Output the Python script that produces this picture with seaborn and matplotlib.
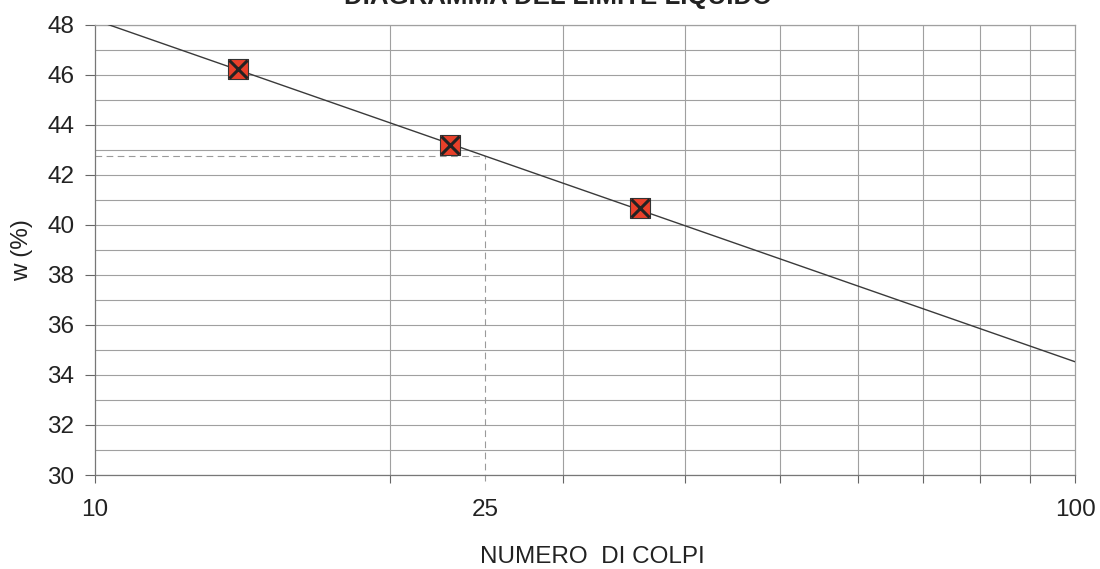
import matplotlib
matplotlib.use('Agg')
import matplotlib.pyplot as plt
import matplotlib.ticker as mticker
import pandas as pd
import seaborn as sns

# Test points (blows vs water content)
blows = [14, 23, 36]
water = [46.24, 43.18, 40.66]

# Fitted line read at the edges of the chart
trend_blows = [10, 100]
trend_water = [48.2, 34.53]

# Liquid limit at 25 blows
ll_blows = 25
ll_water = 42.77

x_major = [10, 25, 100]
x_labels = ['10', '25', '100']
x_minor = [20, 30, 40, 50, 60, 70, 80, 90]
y_major = list(range(30, 49, 2))
y_minor = list(range(31, 48, 2))

pts = pd.DataFrame({'Colpi': blows, 'w': water})
trend = pd.DataFrame({'Colpi': trend_blows, 'w': trend_water})

sns.set_style('white')
plt.rcParams['font.family'] = ['Liberation Sans', 'DejaVu Sans']

fig = plt.figure(figsize=(11, 5.69), dpi=100)
ax = fig.add_axes([0.0864, 0.1652, 0.8909, 0.7909])
ax.set_xscale('log')

grid_col = '#a0a0a0'

# liquid limit construction lines
ax.plot([10, ll_blows], [ll_water, ll_water], ls=(0, (6, 4)), color='#9a9a9a', lw=0.8, zorder=2)
ax.plot([ll_blows, ll_blows], [29.76, ll_water], ls=(0, (6, 4)), color='#9a9a9a', lw=0.8,
        zorder=2, clip_on=False)

sns.lineplot(data=trend, x='Colpi', y='w', color='#3a3a3a', lw=1.0, ax=ax, zorder=3)
sns.scatterplot(data=pts, x='Colpi', y='w', marker='s', s=190, color='#e8402a',
                edgecolor='#333333', linewidth=0.8, ax=ax, zorder=4)
sns.scatterplot(data=pts, x='Colpi', y='w', marker='x', s=170, color='#222222',
                linewidth=2.2, ax=ax, zorder=5)

ax.set_xlim(10, 100)
ax.set_ylim(30, 48)

ax.xaxis.set_major_locator(mticker.FixedLocator(x_major))
ax.xaxis.set_major_formatter(mticker.FixedFormatter(x_labels))
ax.xaxis.set_minor_locator(mticker.FixedLocator(x_minor))
ax.xaxis.set_minor_formatter(mticker.NullFormatter())
ax.yaxis.set_major_locator(mticker.FixedLocator(y_major))
ax.yaxis.set_minor_locator(mticker.FixedLocator(y_minor))

ax.grid(False)
ax.grid(which='minor', axis='x', color=grid_col, lw=0.8)
ax.grid(which='both', axis='y', color=grid_col, lw=0.8)

ax.tick_params(axis='both', which='both', labelcolor='#222222')
ax.tick_params(axis='x', which='both', direction='out', length=6, width=0.8,
               color='#666666', bottom=True, labelsize=17.5, pad=11.5)
ax.tick_params(axis='y', which='major', direction='out', length=7, width=0.8,
               color='#666666', left=True, labelsize=17.5, pad=8)
ax.tick_params(axis='y', which='minor', length=0)
ax.xaxis.get_major_ticks()[1].tick1line.set_visible(False)

for side, sp in ax.spines.items():
    sp.set_color('#777777' if side in ('left', 'bottom') else grid_col)
    sp.set_linewidth(0.9)

ax.set_xlabel('NUMERO  DI COLPI', fontsize=17.5, color='#222222', va='center')
ax.set_ylabel('w (%)', fontsize=17.5, color='#222222', va='center')
ax.xaxis.set_label_coords(0.508, -0.182)
ax.yaxis.set_label_coords(-0.0745, 0.5)

fig.text(0.5077, 1 - 4 / 569, 'DIAGRAMMA DEL LIMITE LIQUIDO', ha='center', va='baseline',
         fontsize=18.6, fontweight='bold', color='#222222')

fig.savefig('out.png', dpi=100)
